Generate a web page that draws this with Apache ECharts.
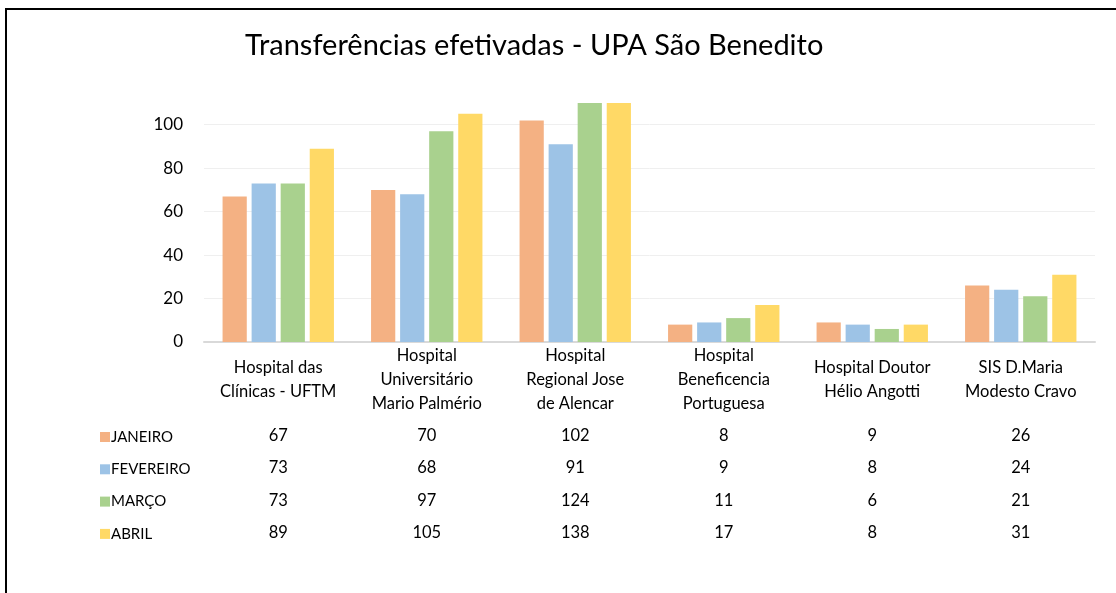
<!DOCTYPE html>
<html><head><meta charset="utf-8">
<script src="https://cdn.jsdelivr.net/npm/echarts@6/dist/echarts.min.js"></script>
<style>html,body{margin:0;padding:0;background:#fff}#c{width:1116px;height:593px}</style>
</head><body><div id="c"></div>
<script>
var categories = ["Hospital das\nClínicas - UFTM", "Hospital\nUniversitário\nMario Palmério", "Hospital\nRegional Jose\nde Alencar", "Hospital\nBeneficencia\nPortuguesa", "Hospital Doutor\nHélio Angotti", "SIS D.Maria\nModesto Cravo"];
var seriesNames = ["JANEIRO", "FEVEREIRO", "MARÇO", "ABRIL"];
var janeiro = [67, 70, 102, 8, 9, 26];
var fevereiro = [73, 68, 91, 9, 8, 24];
var marco = [73, 97, 124, 11, 6, 21];
var abril = [89, 105, 138, 17, 8, 31];
var colors = ["#F4B183", "#9DC3E6", "#A9D18E", "#FFD966"];
var title = "Transferências efetivadas - UPA São Benedito";

var FONT = "Lato";
var allData = [janeiro, fevereiro, marco, abril];
var rowY = [435, 467, 500, 532];
var axisY = 342;

var xAxes = [{
  type: "category", data: categories, gridIndex: 0,
  axisLine: {show: true, lineStyle: {color: "#d9d9d9", width: 2}},
  axisTick: {show: false},
  axisLabel: {interval: 0, margin: 38, verticalAlign: "middle", fontFamily: FONT, fontSize: 16.5, color: "#000", lineHeight: 24}
}];
allData.forEach(function (d, i) {
  xAxes.push({
    type: "category", gridIndex: 0, position: "bottom", offset: rowY[i] - axisY + 1,
    data: d.map(String),
    axisLine: {show: false}, axisTick: {show: false}, splitLine: {show: false},
    axisLabel: {interval: 0, margin: 0, verticalAlign: "middle", fontFamily: FONT, fontSize: 16.5, color: "#000"}
  });
});

var series = allData.map(function (d, i) {
  return {
    name: seriesNames[i], type: "bar", xAxisIndex: 0, yAxisIndex: 0, data: d,
    itemStyle: {color: colors[i]},
    barGap: "20%", barCategoryGap: "25%", clip: true
  };
});

var chart = echarts.init(document.getElementById("c"));
chart.setOption({
  animation: false,
  color: colors,
  title: {text: title, left: 240, top: 26, textStyle: {fontFamily: FONT, fontSize: 29, fontWeight: "normal", color: "#000"}},
  legend: {
    orient: "vertical", left: 95, top: 424, itemWidth: 10, itemHeight: 10, itemGap: 16.3,
    icon: "rect", data: seriesNames,
    textStyle: {fontFamily: FONT, fontSize: 15, color: "#000", lineHeight: 16, padding: [0, 0, 0, -4]},
    selectedMode: false
  },
  grid: {left: 204, right: 21, top: 103, bottom: 593 - axisY, containLabel: false},
  xAxis: xAxes,
  yAxis: {
    type: "value", min: 0, max: 110, interval: 20,
    axisLine: {show: false}, axisTick: {show: false},
    axisLabel: {margin: 21, fontFamily: FONT, fontSize: 17, color: "#000", showMaxLabel: false},
    splitLine: {show: true, showMaxLine: false, lineStyle: {color: "#efefef", width: 1}}
  },
  graphic: [{
    type: "rect", shape: {x: 6, y: 9, width: 1200, height: 700},
    style: {fill: "none", stroke: "#000", lineWidth: 2}, silent: true
  }],
  series: series
});
</script></body></html>
